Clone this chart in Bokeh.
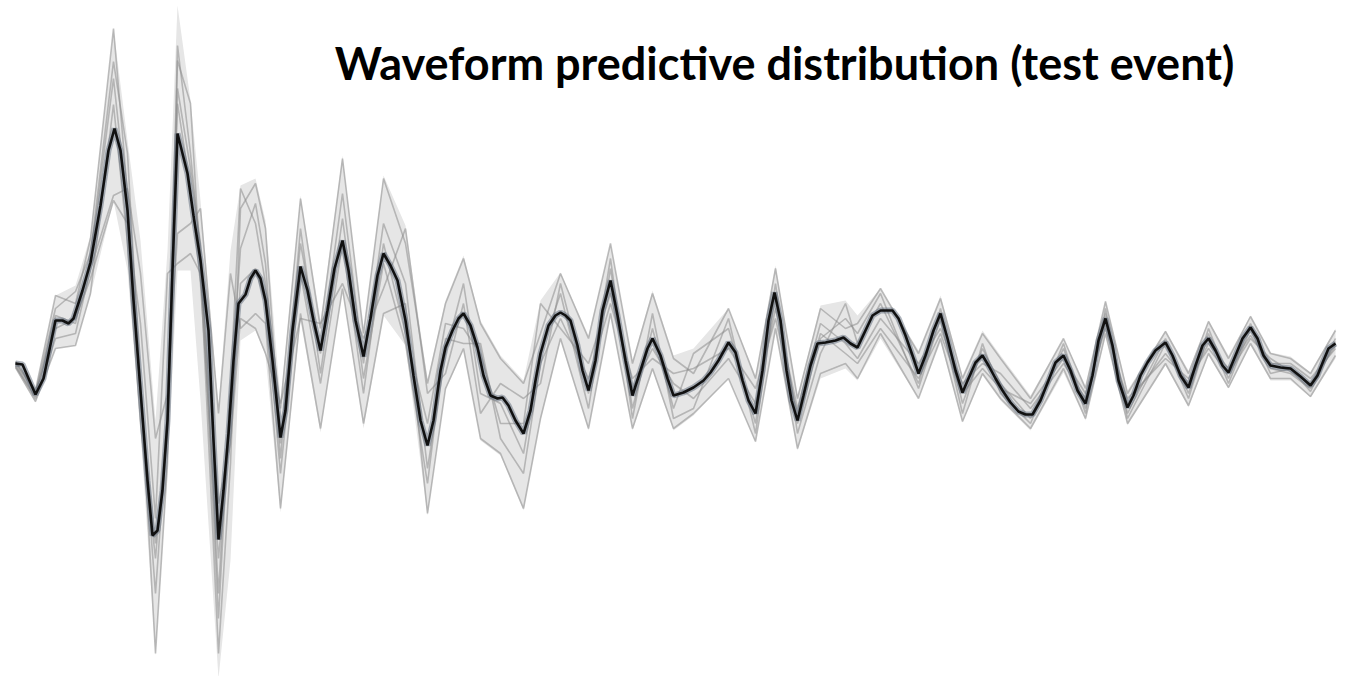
from bokeh.plotting import figure
from bokeh.models import Range1d, Label
from bokeh.embed import file_html
from bokeh.resources import INLINE

title_text = "Waveform predictive distribution (test event)"

# posterior-mean waveform (sample index, amplitude)
mean_t = [0, 7, 20, 28, 40, 47, 53, 58, 67, 75, 85, 93, 99, 105, 112, 118, 125, 132, 137, 142,
          147, 152, 157, 162, 172, 178, 185, 193, 198, 203, 208, 213, 218, 223, 230, 235, 240, 245, 250, 257,
          265, 270, 277, 285, 292, 298, 305, 312, 319, 327, 333, 340, 348, 355, 362, 368, 375, 382, 390, 398,
          405, 412, 418, 425, 430, 437, 443, 448, 455, 462, 468, 475, 482, 487, 493, 500, 508, 515, 520, 525,
          533, 540, 545, 550, 555, 562, 567, 573, 580, 587, 595, 602, 610, 617, 625, 632, 637, 645, 652, 658,
          668, 678, 688, 695, 703, 713, 720, 727, 733, 740, 747, 753, 759, 765, 771, 776, 782, 788, 795, 802,
          810, 820, 828, 835, 842, 850, 857, 865, 877, 883, 890, 897, 903, 910, 918, 925, 932, 940, 947, 953,
          960, 967, 973, 980, 987, 995, 1003, 1010, 1017, 1025, 1033, 1040, 1048, 1055, 1062, 1070, 1077, 1083, 1090, 1097,
          1103, 1112, 1118, 1125, 1132, 1140, 1150, 1157, 1165, 1173, 1180, 1187, 1193, 1200, 1207, 1213, 1220, 1227, 1235, 1242,
          1248, 1255, 1265, 1275, 1285, 1295, 1302, 1308, 1313, 1320]
mean_amp = [0.00, -0.01, -0.31, -0.15, 0.43, 0.43, 0.40, 0.45, 0.73, 1.01, 1.58, 2.13, 2.35, 2.13, 1.53, 0.63, -0.27, -1.17, -1.72, -1.67,
            -1.27, -0.57, 0.93, 2.30, 1.90, 1.48, 1.03, 0.33, -0.77, -1.76, -1.27, -0.70, 0.03, 0.60, 0.69, 0.85, 0.93, 0.85, 0.63, 0.03,
            -0.74, -0.47, 0.33, 0.97, 0.73, 0.43, 0.13, 0.53, 0.95, 1.23, 0.93, 0.43, 0.07, 0.45, 0.88, 1.10, 0.98, 0.83, 0.43, -0.12,
            -0.57, -0.82, -0.57, -0.07, 0.16, 0.33, 0.45, 0.50, 0.38, 0.16, -0.12, -0.32, -0.35, -0.34, -0.42, -0.57, -0.70, -0.47, -0.17, 0.10,
            0.38, 0.48, 0.51, 0.48, 0.43, 0.18, -0.07, -0.27, 0.03, 0.53, 0.83, 0.48, 0.03, -0.32, -0.07, 0.15, 0.25, 0.08, -0.15, -0.32,
            -0.29, -0.24, -0.17, -0.09, 0.03, 0.21, 0.11, -0.17, -0.37, -0.50, -0.07, 0.43, 0.71, 0.43, -0.07, -0.37, -0.57, -0.32, -0.02, 0.20,
            0.21, 0.23, 0.26, 0.20, 0.16, 0.33, 0.48, 0.53, 0.53, 0.45, 0.28, 0.08, -0.10, 0.08, 0.33, 0.50, 0.25, -0.07, -0.29, -0.15,
            0.01, 0.08, -0.02, -0.15, -0.27, -0.39, -0.48, -0.51, -0.51, -0.37, -0.17, 0.01, 0.08, -0.07, -0.27, -0.40, -0.12, 0.23, 0.45, 0.18,
            -0.17, -0.44, -0.32, -0.12, 0.01, 0.13, 0.21, 0.08, -0.12, -0.24, -0.02, 0.18, 0.25, 0.13, -0.02, -0.09, 0.08, 0.25, 0.36, 0.25,
            0.08, -0.02, -0.04, -0.05, -0.13, -0.22, -0.12, 0.03, 0.15, 0.20]

# predictive band and individual draws on a coarser grid
band_t = [0, 20, 40, 60, 75, 98, 112, 125, 140, 152, 162, 175, 185, 203, 215, 225, 240, 250, 265, 285,
          305, 327, 348, 368, 390, 412, 430, 448, 465, 485, 508, 525, 545, 573, 595, 617, 637, 658, 678, 713,
          740, 760, 782, 805, 830, 842, 865, 903, 925, 947, 967, 985, 1015, 1048, 1070, 1090, 1112, 1150, 1173, 1193,
          1213, 1235, 1255, 1275, 1295, 1320]
band_hi = [0.03, -0.25, 0.68, 0.78, 1.28, 3.35, 2.23, 1.23, -0.57, 1.13, 3.58, 2.63, 1.63, -0.42, 1.13, 1.78, 1.85, 1.43, -0.37, 1.68,
           0.43, 2.08, 0.33, 1.88, 1.38, -0.17, 0.63, 1.08, 0.43, 0.08, -0.17, 0.63, 0.91, 0.28, 1.20, 0.03, 0.73, 0.08, 0.15, 0.55,
           -0.12, 0.98, -0.32, 0.58, 0.63, 0.48, 0.75, 0.13, 0.68, -0.12, 0.33, 0.08, -0.32, 0.25, -0.22, 0.63, -0.27, 0.33, -0.07, 0.43,
           0.08, 0.48, 0.11, 0.07, -0.09, 0.35]
band_lo = [-0.05, -0.39, 0.15, 0.18, 0.68, 1.63, 0.93, -0.67, -2.92, -1.07, 0.93, 0.93, -0.37, -3.15, -1.97, 0.23, 0.33, 0.08, -1.49, 0.43,
           -0.69, 0.73, -0.65, 0.48, 0.18, -1.52, -0.27, 0.13, -0.77, -0.92, -1.47, -0.57, 0.23, -0.67, 0.48, -0.67, -0.07, -0.67, -0.52, -0.15,
           -0.79, 0.33, -0.87, -0.15, -0.05, -0.17, 0.25, -0.35, 0.21, -0.59, -0.12, -0.37, -0.67, -0.09, -0.57, 0.28, -0.62, -0.02, -0.44, 0.08,
           -0.25, 0.18, -0.17, -0.17, -0.34, 0.05]

draw_1 = [0.02, -0.27, 0.68, 0.60, 1.25, 3.35, 1.70, -0.40, -1.80, -0.70, 3.18, 2.10, 1.10, -2.30, -0.20, 1.75, 1.40, 0.80, -0.45, 1.65,
          0.35, 2.05, 0.30, 1.85, 1.20, -0.20, 0.60, 1.05, 0.40, 0.05, -0.20, 0.30, 0.90, 0.25, 1.20, 0.00, 0.70, 0.05, -0.10, 0.55,
          -0.15, 0.95, -0.35, 0.55, 0.35, 0.40, 0.75, 0.10, 0.65, -0.15, 0.30, 0.05, -0.35, 0.25, -0.25, 0.62, -0.30, 0.32, -0.10, 0.42,
          0.05, 0.47, 0.10, 0.05, -0.10, 0.33]
draw_2 = [-0.02, -0.35, 0.25, 0.30, 0.95, 1.68, 1.75, 0.90, -0.75, -0.30, 1.30, 1.40, 1.55, -0.50, 0.90, 0.35, 0.50, 0.40, -1.45, 0.50,
          -0.65, 0.75, -0.60, 0.50, 0.60, -1.50, -0.25, 0.15, -0.75, -0.90, -1.45, -0.55, 0.25, -0.65, 0.50, -0.65, -0.05, -0.65, -0.50, -0.15,
          -0.78, 0.35, -0.85, -0.10, 0.00, -0.15, 0.30, -0.35, 0.25, -0.58, -0.10, -0.35, -0.65, -0.05, -0.55, 0.30, -0.60, 0.00, -0.42, 0.10,
          -0.24, 0.20, -0.15, -0.15, -0.33, 0.08]
draw_3 = [0.00, -0.30, 0.55, 0.72, 1.10, 3.02, 2.10, -0.20, -2.90, -1.00, 3.03, 2.60, 0.95, -2.90, -1.00, 1.55, 1.80, 1.35, -0.80, 1.20,
          0.10, 1.70, 0.00, 1.40, 0.80, -1.05, 0.10, 0.80, -0.30, -0.40, -0.90, 0.10, 0.70, -0.45, 0.95, -0.45, 0.35, -0.45, 0.10, 0.35,
          -0.60, 0.80, -0.70, 0.10, 0.60, 0.20, 0.60, -0.20, 0.55, -0.40, 0.15, -0.20, -0.55, 0.15, -0.45, 0.50, -0.50, 0.25, -0.30, 0.35,
          -0.15, 0.40, -0.05, -0.10, -0.25, 0.25]
draw_4 = [-0.04, -0.38, 0.15, 0.18, 0.70, 2.59, 1.20, -0.60, -1.95, -0.50, 2.60, 1.75, 0.80, -1.95, -0.60, 0.80, 0.95, 0.60, -1.10, 0.90,
          -0.20, 1.20, -0.30, 1.20, 0.30, -0.60, 0.40, 0.35, 0.10, -0.60, -0.60, 0.60, 0.35, 0.00, 0.70, -0.25, 0.15, -0.20, -0.35, 0.05,
          -0.40, 0.55, -0.45, 0.40, 0.20, 0.05, 0.45, 0.00, 0.35, -0.20, 0.00, -0.10, -0.45, 0.00, -0.35, 0.40, -0.40, 0.10, -0.20, 0.20,
          -0.05, 0.28, 0.00, 0.00, -0.15, 0.15]
draw_5 = [0.01, -0.28, 0.35, 0.45, 0.85, 1.63, 1.40, 0.40, -1.55, 0.90, 1.00, 1.10, 0.90, -1.40, -0.80, 0.45, 0.35, 0.10, -0.40, 0.45,
          0.40, 0.80, 0.25, 0.75, 1.35, -0.30, -0.10, 0.60, -0.50, -0.20, -0.35, -0.20, 0.80, -0.30, 1.05, -0.55, 0.50, -0.55, -0.45, 0.45,
          -0.70, 0.70, -0.60, 0.25, 0.45, 0.30, 0.70, -0.25, 0.45, -0.50, 0.20, -0.30, -0.60, 0.20, -0.50, 0.55, -0.55, 0.20, -0.35, 0.30,
          -0.20, 0.35, -0.10, -0.05, -0.28, 0.22]
draw_6 = [-0.03, -0.33, 0.48, 0.40, 1.05, 2.85, 1.55, -0.30, -2.30, -0.60, 2.75, 1.95, 1.20, -2.55, -0.30, 1.15, 1.60, 1.00, -0.95, 1.35,
          -0.10, 1.45, -0.15, 1.00, 0.20, -1.20, 0.25, 0.20, 0.20, -0.75, -1.10, 0.00, 0.45, -0.15, 0.60, -0.15, 0.05, -0.10, -0.05, 0.15,
          -0.25, 0.45, -0.50, 0.30, 0.10, 0.00, 0.35, -0.15, 0.30, -0.30, -0.05, -0.25, -0.40, 0.05, -0.30, 0.35, -0.35, 0.05, -0.15, 0.15,
          -0.10, 0.25, 0.05, -0.08, -0.20, 0.18]
draws = [draw_1, draw_2, draw_3, draw_4, draw_5, draw_6]

p = figure(width=1345, height=676, output_backend="svg", toolbar_location=None,
           x_range=Range1d(-15, 1330), y_range=Range1d(-3.13, 3.63), min_border=0)
p.axis.visible = False
p.grid.visible = False
p.outline_line_color = None
p.background_fill_color = "white"
p.border_fill_color = "white"

p.varea(x=band_t, y1=band_lo, y2=band_hi, fill_color="#e6e6e6", fill_alpha=1.0)
for d in draws:
    p.line(band_t, d, line_color="#8c8c8c", line_alpha=0.55, line_width=1.6)
p.line(mean_t, mean_amp, line_color="#5e6a7a", line_alpha=0.5, line_width=6)
p.line(mean_t, mean_amp, line_color="#111111", line_width=2.6)

p.add_layout(Label(x=784, y=614, x_units="screen", y_units="screen", text=title_text,
                   text_align="center", text_baseline="alphabetic",
                   text_font="Lato", text_font_style="bold", text_font_size="45px",
                   text_color="black"))

open("out.html", "w").write(file_html(p, INLINE))
